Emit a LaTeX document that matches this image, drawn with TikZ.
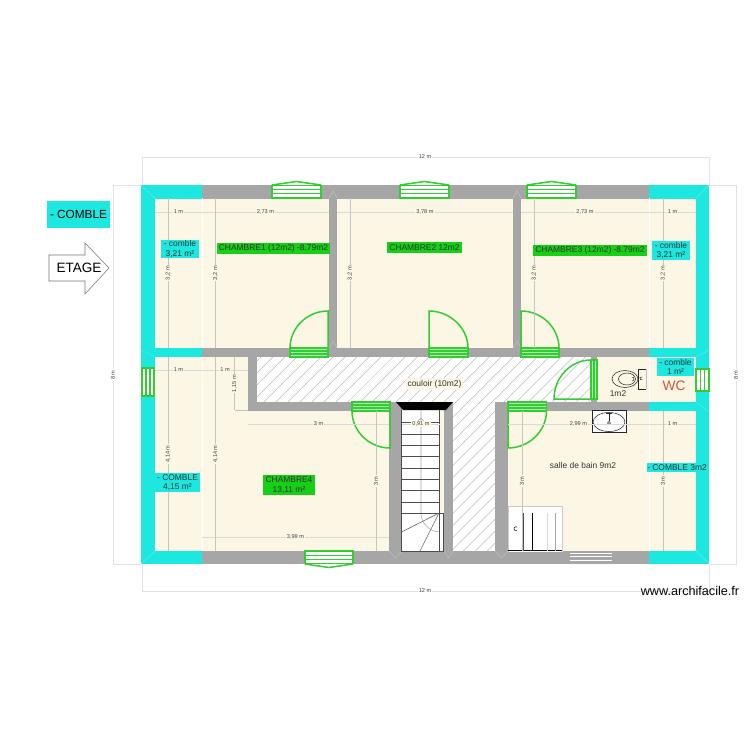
\documentclass[tikz,border=0pt]{standalone}
\usepackage{fontspec}
\setmainfont{Liberation Sans}
\usepackage{xcolor}
\usetikzlibrary{calc,positioning,patterns.meta}
\definecolor{creamroom}{RGB}{252,246,228}
\definecolor{cyanwall}{RGB}{28,232,224}
\definecolor{greywall}{RGB}{166,166,166}
\definecolor{greenopen}{RGB}{51,204,51}
\definecolor{greentag}{RGB}{22,208,22}
\definecolor{dimgrey}{RGB}{196,196,192}
\definecolor{dimpale}{RGB}{226,226,226}
\definecolor{wcred}{RGB}{205,82,60}
\tikzset{
	wall/.style={fill=greywall},
	combwall/.style={fill=cyanwall},
	opening/.style={draw=greenopen,line width=.85pt},
	hatched/.style={pattern={Lines[angle=45,distance=1.7mm,line width=.2pt]},pattern color=greywall},
	dimline/.style={draw=dimgrey,line width=.3pt},
	outerline/.style={draw=dimpale,line width=.35pt},
	dimlabel/.style={fill=creamroom,inner sep=.6pt,text=black!75,font=\fontsize{3.2}{3.6}\selectfont},
	tag/.style={inner sep=0pt,align=center,text=black!80,font=\fontsize{4.8}{5.4}\selectfont},
	miter/.style={line width=.25pt},
	fixture/.style={draw=black!85,line width=.3pt}
}
\begin{document}
\begin{tikzpicture}
		[x=0.02cm,y=-0.02cm]
		\useasboundingbox[fill=white] (0,0) rectangle (750,750);
		% floors
		\fill[creamroom] (155,198) rectangle (696,551);
		\fill[white] (257,357) rectangle (591,402);
		\fill[white] (453,402) rectangle (495,551);
		\fill[hatched] (257,357) rectangle (591,402);
		\fill[hatched] (453,402) rectangle (495,551);
		% walls
		\foreach \xa/\ya/\xb/\yb in {202/185/649/198.5,202/348/649/357,329/198/337/348,513/198/521/348,
			202/551/649/564,248/357/257/411,248/402/390/411,389/402/402/551,444/402/453/551,
			495/402/508/551,495/402/649/411,591/357/597/402}
		{
			\fill[wall] (\xa,\ya) rectangle (\xb,\yb);
		}
		\foreach \xa/\ya/\xb/\yb in {141/185/155/564,141/185/202/198.5,155/348/202/357,141/551/202/564,
			696/185/709/564,649/185/709/198.5,649/348/696/357,649/402/696/411,649/551/709/564}
		{
			\fill[combwall] (\xa,\ya) rectangle (\xb,\yb);
		}
		% joints
		\foreach \xa/\ya/\xb/\yb in {141/185/155/198,709/185/696/198,141/564/155/551,709/564/696/551,
			141/350/155/357,709/350/696/357,709/412/696/402}
		{
			\draw[miter,draw=cyanwall!70!white] (\xa,\ya) -- (\xb,\yb);
		}
		\foreach \xa/\xb/\yy/\ym in {329/337/198/191,513/521/198/191,329/337/348/341,513/521/348/341,
			389/402/551/558,444/453/551/558,495/508/551/558}
		{
			\draw[miter,draw=greywall!70!white] (\xa,\yy) -- ({(\xa+\xb)/2},\ym) -- (\xb,\yy);
		}
		\draw[white,line width=.5pt] (202,198) -- (202,348);
		\draw[white,line width=.5pt] (202,357) -- (202,551);
		\draw[white,line width=.5pt] (649,198) -- (649,348);
		\draw[white,line width=.5pt] (649,357) -- (649,402);
		\draw[white,line width=.5pt] (649,411) -- (649,551);
		% stairs
		\fill[white] (401,410) rectangle (440,513);
		\fill[white] (401,513) rectangle (443,551);
		\fill[black] (396,402) -- (453,402) -- (446,410) -- (403,410) -- cycle;
		\draw[greywall,line width=.3pt] (421,410) -- (421,513) (417,422) -- (421,418) -- (425,422);
		\draw[greywall,line width=.3pt] (421,513) .. controls (421,522) and (428,531) .. (439,532);
		\foreach \yy in {422,434,445,456,468,479,490,502,513}
		{
			\draw[black!70,line width=.45pt] (401,\yy) -- (439,\yy);
		}
		\draw[black!70,line width=.45pt] (401,410) -- (401,551) -- (443,551) -- (443,513) -- (439,513);
		\draw[black!70,line width=.45pt] (439,410) -- (439,551);
		\draw[black!60,line width=.35pt] (439,513) -- (401.5,532) (439,513) -- (420,551);
		% windows
		\foreach \xa/\xb in {272/321,400/449,527/576}
		{
			\fill[white] (\xa,185) rectangle (\xb,198);
			\draw[opening] (\xa,185.5) rectangle (\xb,198) (\xa,189.5) -- (\xb,189.5) (\xa,193.5) -- (\xb,193.5);
			\draw[opening] (\xa,185) -- ({(\xa+\xb)/2},181.5) -- (\xb,185);
		}
		\fill[white] (305,551) rectangle (353,564);
		\draw[opening] (305,551) rectangle (353,563.5) (305,555.5) -- (353,555.5) (305,559.5) -- (353,559.5);
		\draw[opening] (305,564) -- (329,567.5) -- (353,564);
		\fill[white] (142,368) rectangle (154,396);
		\draw[opening] (142,368) rectangle (154,396) (146,368) -- (146,396) (150,368) -- (150,396);
		\fill[white] (696,369) rectangle (709,391);
		\draw[opening] (696,369) rectangle (709,391) (700.5,369) -- (700.5,391) (704.5,369) -- (704.5,391);
		\foreach \yy in {553.3,556.8,560.7}
		{
			\draw[white,line width=.7pt] (570,\yy) -- (612,\yy);
		}
		% doors
		\foreach \xa/\ya/\xb/\yb in {290/348/328/357,429/348/468/357,521/348/559/357,352/402/390/411,508/402/546.5/411}
		{
			\fill[greenopen!40!white] (\xa,\ya) rectangle (\xb,\yb);
			\draw[opening] (\xa,\ya) rectangle (\xb,\yb) (\xa,\ya+3) -- (\xb,\ya+3) (\xa,\ya+6) -- (\xb,\ya+6);
		}
		\draw[opening] (328,348) -- (328,311) .. controls (307,311) and (290,328) .. (290,348);
		\draw[opening] (429,348) -- (429,311) .. controls (450,311) and (468,328) .. (468,348);
		\draw[opening] (521,348) -- (521,311) .. controls (542,311) and (559,328) .. (559,348);
		\draw[opening] (390,411) -- (390,448) .. controls (369,448) and (352,431) .. (352,411);
		\draw[opening] (508,411) -- (508,448) .. controls (529,448) and (546.5,431) .. (546.5,411);
		\fill[greenopen!40!white] (591,360) rectangle (597,399);
		\draw[opening] (591,360) rectangle (597,399) (594,360) -- (594,399);
		\draw[opening] (591,399) -- (554,399) .. controls (554,378) and (570,360) .. (591,360);
		% bathroom things
		\fill[white] (508,506) rectangle (562,552);
		\draw[white!80!black,line width=.3pt] (508,552) -- (508,506) -- (562,506) -- (562,552);
		\draw[black,line width=.5pt] (508,550.5) -- (562,550.5) (532,513) -- (532,551);
		\draw[black!70,line width=.4pt] (523,513) -- (523,551);
		\draw[black!15,line width=.4pt] (547,513) -- (547,551);
		\draw[black!35,line width=.4pt] (555,513) -- (555,551);
		\draw[black,line width=.3pt] (517,527) arc[start angle=60,end angle=300,radius=.04cm];
		\fill[white,fixture] (592,410) rectangle (626,432);
		\draw[fixture] (609,422) ellipse[x radius=.32cm,y radius=.19cm];
		\draw[fixture] (609,414) -- (609,421);
		\draw[fixture] (609,423) circle[radius=.03cm];
		\draw[fixture] (606,413) -- (612,413);
		\draw[fixture] (646,369) -- (638,369) -- (638,389) -- (646,389);
		\draw[black!25,line width=.3pt] (646,369) -- (646,389);
		\draw[fixture] (625,379) ellipse[x radius=.26cm,y radius=.17cm];
		\draw[fixture] (627,379) ellipse[x radius=.17cm,y radius=.12cm];
		\draw[fixture] (632,377) arc[start angle=90,end angle=-90,radius=.04cm];
		\draw[fixture] (642,377) arc[start angle=60,end angle=300,radius=.03cm];
		% dimensions outside
		\draw[outerline] (142,185) -- (142,157) -- (709,157) -- (709,185);
		\draw[outerline] (142,564) -- (142,591) -- (709,591) -- (709,564);
		\draw[outerline] (141,185) -- (113,185) -- (113,564) -- (141,564);
		\draw[outerline] (709,185) -- (736,185) -- (736,564) -- (709,564);
		\node[dimlabel,fill=white] (dimtop) at (425,157) {12 m};
		\node[dimlabel,fill=white] (dimbottom) at (425,591) {12 m};
		\node[dimlabel,fill=white,rotate=90] (dimleft) at (113,375) {8 m};
		\node[dimlabel,fill=white,rotate=90] (dimright) at (736,375) {8 m};
		% dimensions inside
		\foreach \xa/\xb/\yy/\txt [count=\i] in {155/202/212/1 m,202/329/212/{2,73 m},337/513/212/{3,78 m},
			521/649/212/{2,73 m},649/696/212/1 m,155/202/370/1 m,202/248/370/1 m,248/389/424/3 m,
			202/389/537/{3,99 m},402/440/424/{0,91 m},508/649/424/{2,99 m},649/696/424/1 m}
		{
			\draw[dimline,draw=dimpale!70!dimgrey] (\xa,\yy) -- (\xb,\yy) node[midway,dimlabel] (dimh\i) {\txt};
		}
		\foreach \xx/\ya/\yb/\txt [count=\i] in {168/198/348/{3,2 m},215.5/198/348/{3,2 m},350/198/348/{3,2 m},
			534/198/348/{3,2 m},663/198/348/{3,2 m},168/357/551/{4,14 m},215.5/357/551/{4,14 m},
			234.5/357/410/{1,15 m},376/411/551/3 m,522/411/551/3 m,663/411/551/3 m}
		{
			\draw[dimline] (\xx,\ya) -- (\xx,\yb) node[midway,dimlabel,rotate=90] (dimv\i) {\txt};
		}
		\draw[dimline] (234.5,410) -- (248,410);
		% labels
		\node[inner sep=0pt,fill=cyanwall,minimum width=1.26cm,minimum height=.54cm,font=\fontsize{6.7}{8}\selectfont] (legend) at (78.5,214.5) {- COMBLE};
		\draw[draw=black!55,fill=white,line width=.3pt] (49,255) -- (85,255) -- (85,243) -- (109,268) -- (85,294) -- (85,281) -- (49,281) -- cycle;
		\node[inner sep=0pt,font=\fontsize{7.7}{8}\selectfont] (etage) at (79,268) {ETAGE};
		\node[tag,fill=cyanwall,minimum width=.76cm,minimum height=.36cm] (comble1) at (180,249) {- comble\\3,21 m²};
		\node[tag,fill=cyanwall,minimum width=.76cm,minimum height=.38cm] (comble2) at (671,250.5) {- comble\\3,21 m²};
		\node[tag,fill=cyanwall,minimum width=.74cm,minimum height=.36cm] (comble3) at (675.5,367) {- comble\\1 m²};
		\node[tag,fill=cyanwall,minimum width=.9cm,minimum height=.38cm] (comble4) at (177.5,482.5) {- COMBLE\\4,15 m²};
		\node[tag,fill=cyanwall,minimum width=1.02cm,minimum height=.19cm] (comble5) at (677,467.5) {- COMBLE 3m2};
		\node[tag,fill=greentag,minimum width=2.26cm,minimum height=.22cm] (chambre1) at (273.5,248.5) {CHAMBRE1 (12m2) -8.79m2};
		\node[tag,fill=greentag,minimum width=1.5cm,minimum height=.22cm] (chambre2) at (424.5,247.5) {CHAMBRE2 12m2};
		\node[tag,fill=greentag,minimum width=2.28cm,minimum height=.22cm] (chambre3) at (590,250.5) {CHAMBRE3 (12m2) -8.79m2};
		\node[tag,fill=greentag,minimum width=1.04cm,minimum height=.4cm] (chambre4) at (289,485) {CHAMBRE4\\13,11 m²};
		\node[tag,fill=creamroom,inner sep=1pt] (couloir) at (434.5,384) {couloir (10m2)};
		\node[tag] (bain) at (583,465) {salle de bain 9m2};
		\node[tag] (wcsurface) at (618,394) {1m2};
		\node[inner sep=0pt,text=wcred,font=\fontsize{7.8}{8}\selectfont] (wc) at (674,386) {WC};
		\node[inner sep=0pt,font=\fontsize{7.2}{8}\selectfont] (site) at (690,591) {www.archifacile.fr};
		\end{tikzpicture}
\end{document}
